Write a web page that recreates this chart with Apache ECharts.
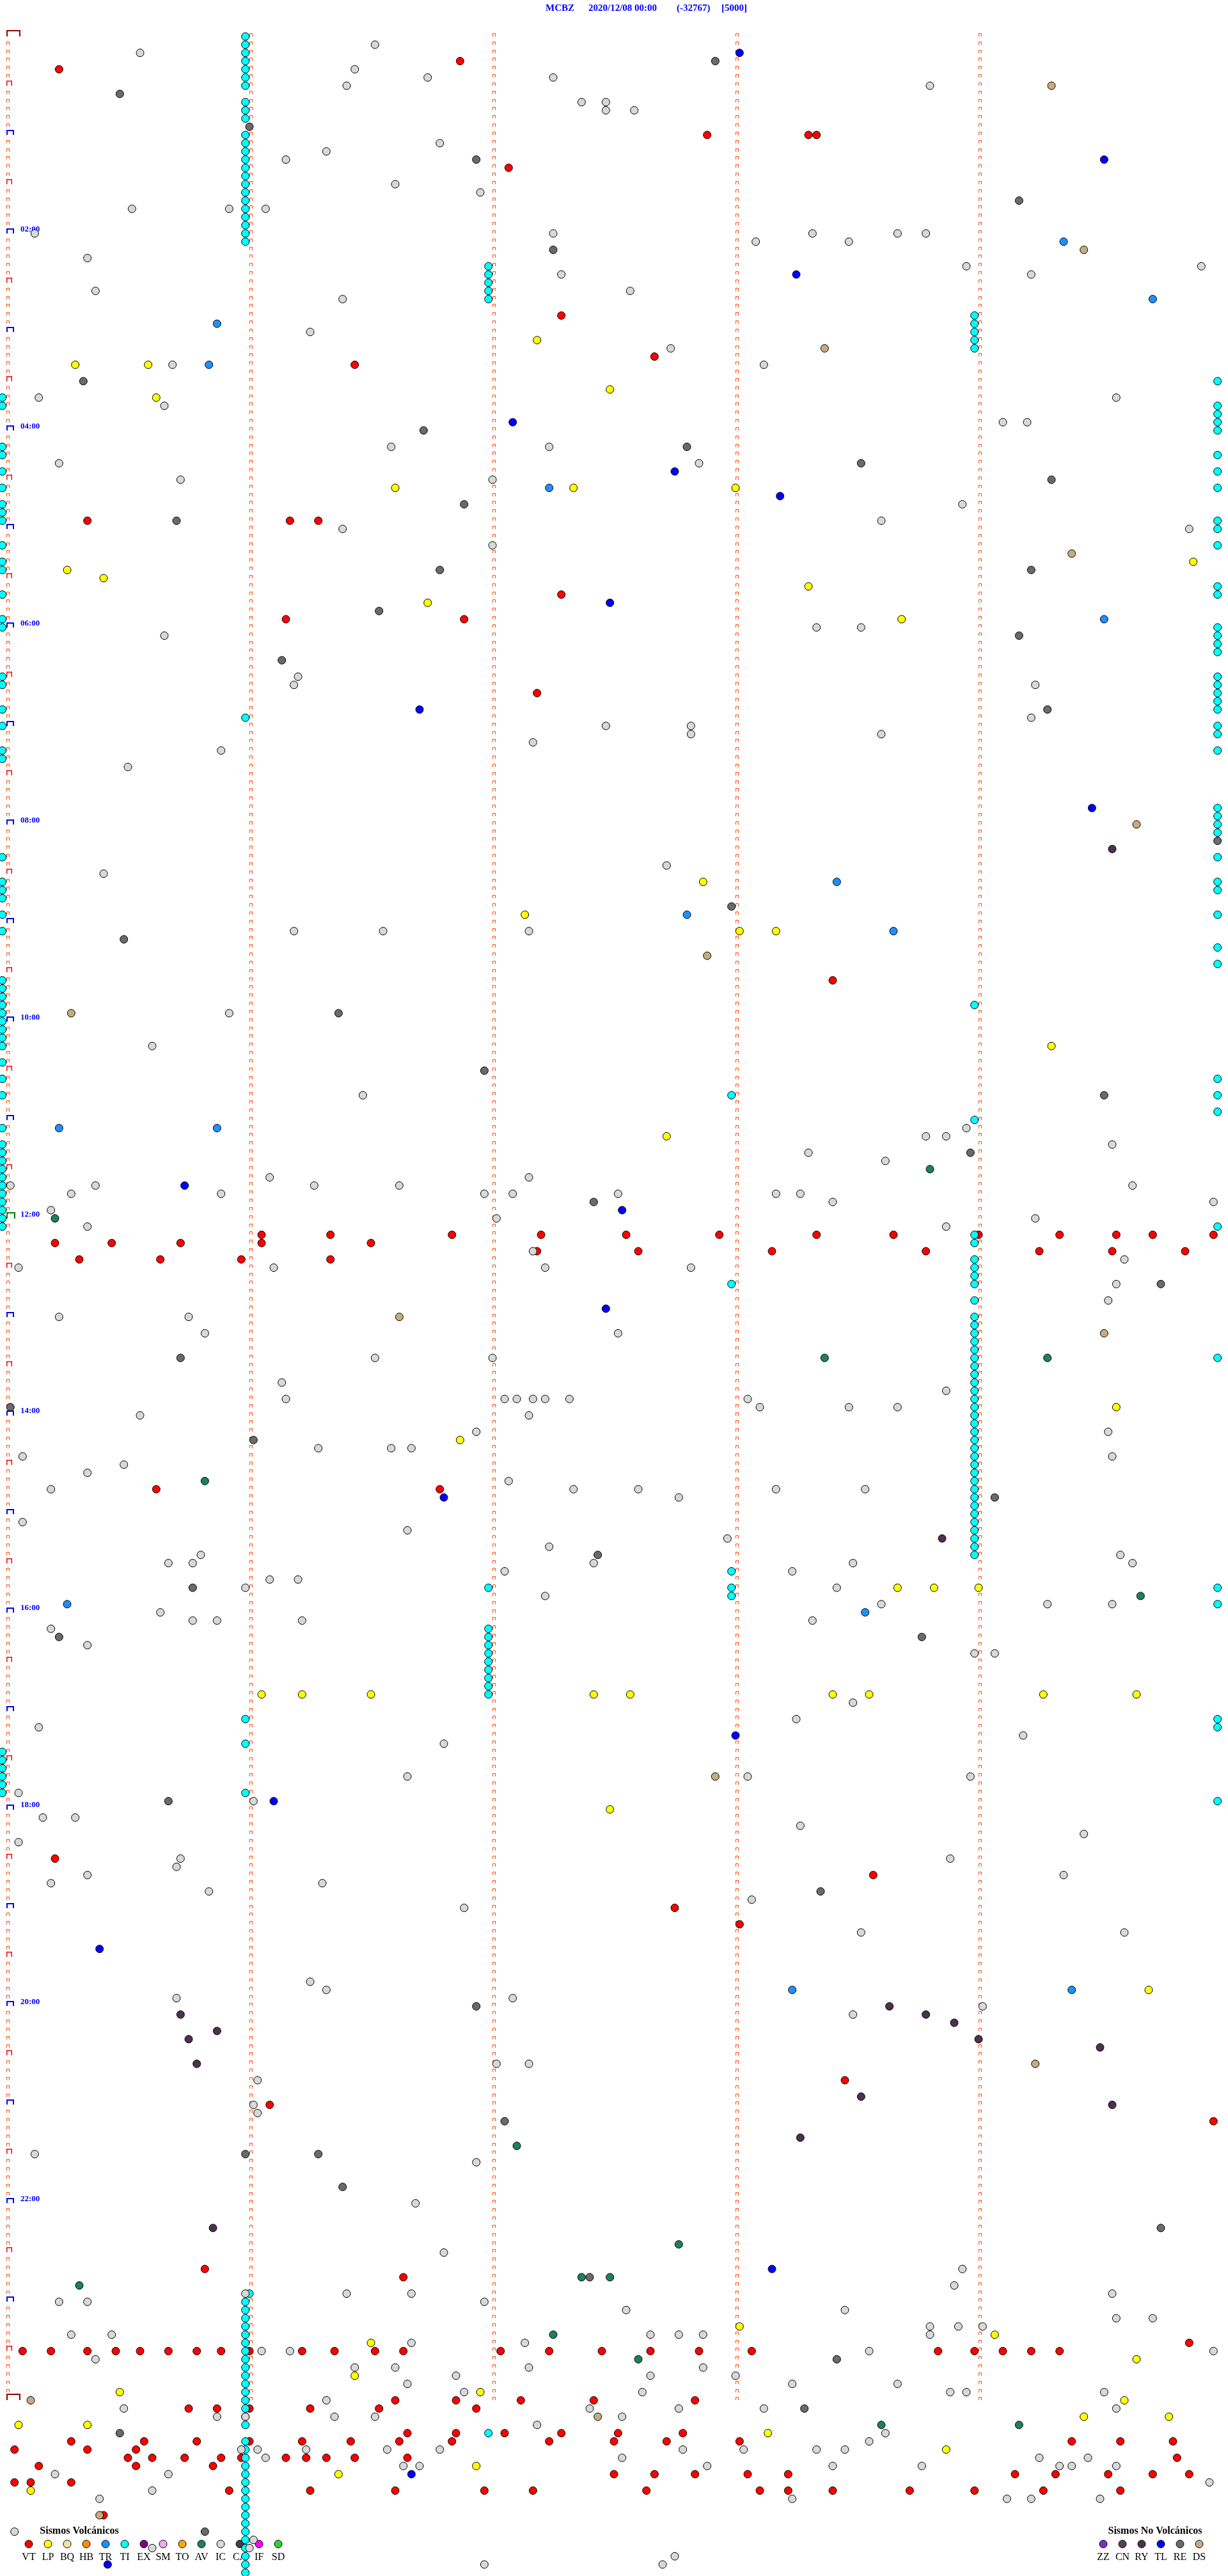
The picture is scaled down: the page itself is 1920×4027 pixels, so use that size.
<!DOCTYPE html>
<html><head><meta charset="utf-8">
<script src="https://cdn.jsdelivr.net/npm/echarts@6/dist/echarts.min.js"></script>
<style>html,body{margin:0;padding:0;background:#fff}#c{width:1920px;height:4027px}</style>
</head><body><div id="c"></div>
<script>
// x = seconds inside the 5-minute helicorder row, y = minute of day of the row
const headerTexts = ['MCBZ', '2020/12/08 00:00', '(-32767)', '[5000]'];
const hourTickLabels = ['02:00','04:00','06:00','08:00','10:00','12:00','14:00','16:00','18:00','20:00','22:00'];
const minuteColumns = [0, 60, 120, 180, 240];

const volcNames = ['VT','LP','BQ','HB','TR','TI','EX','SM','TO','AV','IC','CA','IF','SD'];
const volcColors = ['#FF0000','#FFFF00','#F2E6A6','#FF8C00','#1E90FF','#00FFFF','#800080','#EEAAEE','#FFA500','#1F7F5F','#D8D8D8','#4A3A4A','#FF00FF','#32CD32'];
const noVolcNames = ['ZZ','CN','RY','TL','RE','DS'];
const noVolcColors = ['#7B2FC8','#55405C','#4E3050','#0000FF','#6A6A6A','#C8AA82'];

const VT = [[13,20],[112,15],[173,60],[198,60],[200,60],[124,80],[137,170],[160,195],[86,200],[20,295],[70,295],[77,295],[137,340],[69,355],[113,355],[131,400],[204,575],
[63,730],[80,730],[110,730],[132,730],[153,730],[176,730],[200,730],[219,730],[240,730],[260,730],[274,730],[283,730],[298,730],
[12,735],[26,735],[43,735],[63,735],[90,735],
[131,740],[156,740],[189,740],[227,740],[255,740],[273,740],[291,740],
[18,745],[38,745],[58,745],[80,745],
[37,885],[107,885],[12,1110],[214,1120],[165,1140],[181,1150],[65,1260],[207,1245],[298,1270],[49,1360],[98,1365],
[292,1405],
[4,1410],[11,1410],[20,1410],[27,1410],[33,1410],[40,1410],[47,1410],[53,1410],[60,1410],[73,1410],[81,1410],[91,1410],[98,1410],[122,1410],[134,1410],[147,1410],[159,1410],[171,1410],[184,1410],[230,1410],[239,1410],[246,1410],[253,1410],[260,1410],
[96,1440],[111,1440],[127,1440],[145,1440],[170,1440],
[45,1445],[52,1445],[60,1445],[75,1445],[92,1445],[116,1445],
[99,1460],[111,1460],[123,1460],[137,1460],[151,1460],[167,1460],
[16,1465],[34,1465],[47,1465],[60,1465],[73,1465],[85,1465],[97,1465],[110,1465],[134,1465],[150,1465],[163,1465],[181,1465],[263,1465],[275,1465],[288,1465],
[2,1470],[20,1470],[32,1470],
[30,1475],[36,1475],[44,1475],[53,1475],[58,1475],[69,1475],[74,1475],[79,1475],[86,1475],[99,1475],[289,1475],
[8,1480],[32,1480],[51,1480],
[150,1485],[160,1485],[170,1485],[183,1485],[193,1485],[249,1485],[259,1485],[272,1485],[283,1485],[292,1485],
[2,1490],[6,1490],[16,1490],
[55,1495],[75,1495],[96,1495],[118,1495],[130,1495],[158,1495],[186,1495],[193,1495],[204,1495],[223,1495],[239,1495],[256,1495],[275,1495],
[24,1510]];

const TI = [[59,0],[59,5],[59,10],[59,15],[59,20],[59,25],[59,30],[59,40],[59,45],[59,50],[59,60],[59,65],[59,70],[59,75],[59,80],[59,85],[59,90],[59,95],[59,100],[59,105],[59,110],[59,115],[59,120],[59,125],[59,415],[59,1025],[59,1040],[59,1070],
[60,1375],[59,1380],[59,1385],[59,1390],[59,1395],[59,1400],[59,1405],[59,1410],[59,1415],[59,1420],[59,1425],[59,1430],[59,1435],[59,1440],[59,1445],[59,1450],[59,1455],[59,1465],[59,1470],[59,1475],[59,1480],[59,1485],[59,1490],[59,1495],[59,1500],[59,1505],[59,1510],[59,1515],[59,1520],[59,1525],[59,1530],[59,1535],[59,1540],[59,1545],
[119,140],[119,145],[119,150],[119,155],[119,160],[119,945],[119,970],[119,975],[119,980],[119,985],[119,990],[119,995],[119,1000],[119,1005],[119,1010],[119,1460],
[179,645],[179,760],[179,935],[179,945],[179,950],
[239,170],[239,175],[239,180],[239,185],[239,190],[239,590],[239,660],[239,730],[239,735],[239,745],[239,750],[239,755],[239,760],[239,770],[239,780],[239,785],[239,790],[239,795],[239,800],[239,805],[239,810],[239,815],[239,820],[239,825],[239,830],[239,835],[239,840],[239,845],[239,850],[239,855],[239,860],[239,865],[239,870],[239,875],[239,880],[239,885],[239,890],[239,895],[239,900],[239,905],[239,910],[239,915],[239,920],[239,925],
[-1,220],[-1,225],[-1,250],[-1,255],[-1,265],[-1,275],[-1,285],[-1,290],[-1,295],[-1,310],[-1,320],[-1,325],[-1,340],[-1,355],[-1,360],[-1,390],[-1,395],[-1,410],[-1,420],[-1,435],[-1,440],[-1,500],[-1,515],[-1,520],[-1,525],[-1,535],[-1,545],[-1,575],[-1,580],[-1,585],[-1,590],[-1,595],[-1,600],[-1,605],[-1,610],[-1,615],[-1,625],[-1,635],[-1,645],[-1,665],[-1,675],[-1,680],[-1,685],[-1,690],[-1,695],[-1,700],[-1,705],[-1,710],[-1,715],[-1,720],[-1,725],[-1,1045],[-1,1050],[-1,1055],[-1,1060],[-1,1065],[-1,1070],
[299,210],[299,225],[299,230],[299,235],[299,240],[299,255],[299,265],[299,275],[299,295],[299,300],[299,310],[299,335],[299,340],[299,360],[299,365],[299,370],[299,375],[299,390],[299,395],[299,400],[299,405],[299,410],[299,420],[299,425],[299,435],[299,470],[299,475],[299,480],[299,485],[299,500],[299,515],[299,520],[299,535],[299,555],[299,565],[299,635],[299,645],[299,655],[299,725],[299,805],[299,945],[299,955],[299,1025],[299,1030],[299,1075]];

const LP = [[131,185],[17,200],[35,200],[37,220],[149,215],[96,275],[140,275],[180,275],[15,325],[24,330],[198,335],[293,320],[104,345],[221,355],[172,515],[128,535],[181,545],[190,545],[258,615],[163,670],[274,835],[112,855],[220,945],[229,945],[240,945],[63,1010],[73,1010],[90,1010],[145,1010],[154,1010],[204,1010],[213,1010],[256,1010],[279,1010],[149,1080],[282,1190],
[90,1405],[86,1425],[28,1435],[117,1435],[3,1455],[20,1455],[116,1480],[82,1485],[6,1495],
[181,1395],[244,1400],[279,1415],[276,1440],[266,1450],[287,1450],[188,1460],[232,1470]];

const TR = [[283,160],[52,175],[50,200],[261,125],[134,275],[271,355],[205,515],[168,535],[219,545],[13,665],[52,665],[15,955],[212,960],[194,1190],[263,1190]];

const AV = [[228,690],[12,720],[49,880],[202,805],[257,805],[280,950],[126,1285],[166,1345],[142,1365],[149,1365],[18,1370],[135,1400],[156,1415],[216,1455],[250,1455]];

const TL = [[181,10],[271,75],[195,145],[125,235],[165,265],[191,280],[149,345],[102,410],[268,470],[44,700],[152,715],[148,775],[108,890],[180,1035],[66,1075],[23,1165],[189,1360],[100,1485],[25,1540]];

const RE = [[28,35],[175,15],[60,55],[116,75],[250,100],[135,130],[19,210],[103,240],[168,250],[211,260],[258,270],[113,285],[42,295],[107,325],[253,325],[92,350],[68,380],[250,365],[257,410],[179,530],[29,550],[82,595],[118,630],[271,645],[238,680],[145,710],[285,760],[43,805],[61,855],[1,835],[244,890],[146,925],[46,945],[13,975],[226,975],[40,1075],[201,1130],[116,1200],[123,1270],[59,1290],[77,1290],[83,1310],[285,1335],[144,1365],[28,1460],[205,1415],[197,1445],[49,1520],[299,490]];

const RY = [[273,495],[231,915],[43,1205],[45,1220],[52,1215],[47,1235],[218,1200],[227,1205],[234,1210],[240,1220],[270,1225],[211,1255],[273,1260],[196,1280],[51,1335]];

const DS = [[258,30],[266,130],[202,190],[263,315],[279,480],[16,595],[173,560],[97,780],[271,790],[175,1060],[254,1235],[6,1440],[146,1450],[23,1510]];

const IC = [[33,10],[91,5],[86,20],[84,30],[104,25],[135,25],[142,40],[148,40],[148,45],[155,45],[228,30],[69,75],[79,70],[107,65],[96,90],[117,95],[31,105],[55,105],[64,105],[7,120],[135,120],[185,125],[199,120],[208,125],[220,120],[227,120],[237,140],[253,145],[295,140],[20,135],[137,145],[22,155],[154,155],[83,160],[75,180],[164,190],[41,200],[187,200],[8,220],[39,225],[274,220],
[95,250],[43,270],[13,260],[120,270],[134,250],[171,260],[246,235],[252,235],[236,285],[216,295],[292,300],[83,300],[120,310],[200,360],[39,365],[72,390],[71,395],[211,360],[254,395],[253,415],[130,430],[148,420],[169,420],[169,425],[216,425],[53,435],[30,445],[163,505],[24,510],[129,545],[71,545],[93,545],[55,595],[36,615],[88,645],[227,670],[232,670],[198,680],[217,685],[237,665],[273,675],[65,695],[129,695],
[1,700],[22,700],[76,700],[97,700],[16,705],[53,705],[118,705],[125,705],[11,715],[121,720],[20,725],[130,740],[3,750],[66,750],[133,750],[278,700],[151,705],[190,705],[196,705],[204,710],[298,710],[254,720],[232,725],[276,745],[169,750],
[274,760],[272,770],[151,790],[13,780],[45,780],[49,790],[91,805],[68,820],[120,805],[183,830],[186,835],[208,835],[220,835],[232,825],[123,830],[126,830],[130,830],[133,830],[129,840],[139,830],[69,830],[33,840],[272,850],[77,860],[95,860],[100,860],[116,850],[4,865],[29,870],[20,875],[124,880],[140,885],[156,885],[166,890],[190,885],[212,885],[273,865],[11,885],[4,905],[99,910],
[178,915],[40,930],[46,930],[48,925],[134,920],[145,930],[123,935],[133,950],[194,935],[209,930],[65,940],[72,940],[59,945],[38,960],[46,965],[52,965],[73,965],[11,970],[20,980],[275,925],[278,930],[205,945],[199,965],[216,955],[239,985],[244,985],[273,955],[257,955],
[209,1015],[195,1025],[8,1030],[108,1040],[251,1035],[99,1060],[183,1060],[238,1060],[61,1075],[3,1070],[9,1085],[17,1085],[196,1090],[3,1100],[266,1095],[233,1110],[43,1110],[42,1115],[11,1125],[20,1120],[50,1130],[78,1125],[261,1120],[184,1135],[113,1140],[211,1155],[276,1155],
[75,1185],[79,1190],[42,1195],[125,1195],[209,1205],[241,1200],[121,1235],[129,1235],[62,1245],[61,1260],[62,1265],[7,1290],[116,1295],[101,1320],[108,1350],[236,1360],[234,1370],
[59,1375],[84,1375],[100,1375],[13,1380],[20,1380],[118,1380],[16,1400],[26,1400],[100,1405],[128,1405],[63,1410],[70,1410],[22,1415],[86,1420],[96,1420],[129,1420],[111,1425],[99,1430],[113,1435],[79,1440],[29,1445],[144,1445],[52,1450],[59,1450],[81,1450],[91,1450],[131,1455],[58,1470],[62,1470],[74,1470],[94,1470],[107,1470],[64,1475],[98,1480],[102,1480],[12,1485],[40,1485],[36,1495],[23,1500],
[273,1375],[153,1385],[207,1385],[274,1390],[283,1390],[228,1395],[235,1395],[241,1395],[159,1400],[166,1400],[172,1400],[228,1400],[213,1410],[298,1410],[172,1420],[159,1425],[180,1425],[194,1430],[220,1430],[157,1435],[233,1435],[237,1435],[271,1435],[166,1445],[187,1445],[274,1445],[152,1450],[217,1460],[213,1465],[167,1470],[182,1470],[200,1470],[207,1470],[152,1475],[255,1475],[267,1475],[173,1480],[204,1480],[226,1480],[260,1480],[263,1480],[274,1480],[297,1490],[194,1500],[247,1500],[253,1500],[270,1500],
[2,1520],[61,1525],[60,1530],[36,1530],[118,1540],[162,1540],[165,1535]];

// ---------- build ----------
const markerStyles = [
  {w:5, h:5, lw:1, c:'#FF4500'},
  {w:9, h:8, lw:1.5, c:'#FF0000'},
  {w:12, h:8, lw:2, c:'#0000FF'},
  {w:22, h:10, lw:2, c:'#8B0000'},
  {w:14, h:10, lw:2, c:'#008000'}
];
const markerData = [];
for (let m = 0; m <= 1440; m += 5) {
  for (const c of minuteColumns) {
    let t = 0;
    if (c === 0) {
      if (m === 0 || m === 1440) t = 3;
      else if (m === 720) t = 4;
      else if (m % 60 === 0) t = 2;
      else if (m % 30 === 0) t = 1;
    }
    markerData.push([c, m, t]);
  }
}

function dots(name, data, color) {
  return {
    type: 'scatter', name, data, symbol: 'circle', symbolSize: 12, clip: false, silent: true,
    itemStyle: {color, borderColor: '#000', borderWidth: 1, opacity: 1}
  };
}

const graphic = [];
const headerX = [853, 920, 1058, 1128];
headerTexts.forEach((t, i) => graphic.push({type:'text', x: headerX[i], y: 13, style:{text: t, fill:'#0000FF', font:'bold 15px "Liberation Serif", serif', textVerticalAlign:'middle', verticalAlign:'middle'}}));
graphic.push({type:'text', x: 124, y: 3957, style:{text:'Sismos Volcánicos', fill:'#000', font:'bold 16px "Liberation Serif", serif', textAlign:'center', align:'center', textVerticalAlign:'middle', verticalAlign:'middle'}});
graphic.push({type:'text', x: 1806, y: 3957, style:{text:'Sismos No Volcánicos', fill:'#000', font:'bold 16px "Liberation Serif", serif', textAlign:'center', align:'center', textVerticalAlign:'middle', verticalAlign:'middle'}});
function legendRow(names, colors, x0) {
  names.forEach((n, i) => {
    const x = x0 + i * 30;
    graphic.push({type:'circle', shape:{cx: x, cy: 3977, r: 6}, style:{fill: colors[i], stroke:'#000', lineWidth: 1}});
    graphic.push({type:'text', x: x, y: 3998, style:{text: n, fill:'#000', font:'16px "Liberation Serif", serif', textAlign:'center', align:'center', textVerticalAlign:'middle', verticalAlign:'middle'}});
  });
}
legendRow(volcNames, volcColors, 45);
legendRow(noVolcNames, noVolcColors, 1725);

const chart = echarts.init(document.getElementById('c'), null, {renderer: 'canvas'});
chart.setOption({
  animation: false,
  backgroundColor: '#fff',
  grid: {left: 10, top: 57, width: 1900, height: 3952},
  xAxis: {type: 'value', min: 0, max: 300, show: false},
  yAxis: {
    type: 'value', min: 0, max: 1540, interval: 120, inverse: true,
    axisLine: {show: false}, axisTick: {show: false}, splitLine: {show: false},
    axisLabel: {
      inside: true, margin: 22, color: '#0000FF', fontWeight: 'bold', fontSize: 13,
      fontFamily: '"Liberation Serif", serif', verticalAlign: 'bottom', align: 'left',
      showMinLabel: true, showMaxLabel: false,
      formatter: v => { const i = v / 120 - 1; return (v % 120 === 0 && i >= 0 && i < hourTickLabels.length) ? hourTickLabels[i] : ''; }
    }
  },
  graphic,
  series: [
    {
      type: 'custom', data: markerData, clip: false, silent: true, encode: {x: 0, y: 1},
      renderItem: (params, api) => {
        const p = api.coord([api.value(0), api.value(1)]);
        const s = markerStyles[api.value(2)];
        const bx = Math.round(p[0]), by = Math.round(p[1]);
        const x0 = bx + s.lw / 2, x1 = bx + s.w - s.lw / 2, yt = by - s.h + s.lw / 2;
        return {type: 'polyline', shape: {points: [[x0, by], [x0, yt], [x1, yt], [x1, by]]}, style: {stroke: s.c, lineWidth: s.lw, fill: null}};
      }
    },
    dots('VT', VT, volcColors[0]),
    dots('TI', TI, volcColors[5]),
    dots('LP', LP, volcColors[1]),
    dots('TR', TR, volcColors[4]),
    dots('AV', AV, volcColors[9]),
    dots('TL', TL, noVolcColors[3]),
    dots('RE', RE, noVolcColors[4]),
    dots('RY', RY, noVolcColors[2]),
    dots('DS', DS, noVolcColors[5]),
    dots('IC', IC, volcColors[10])
  ]
});
</script></body></html>
